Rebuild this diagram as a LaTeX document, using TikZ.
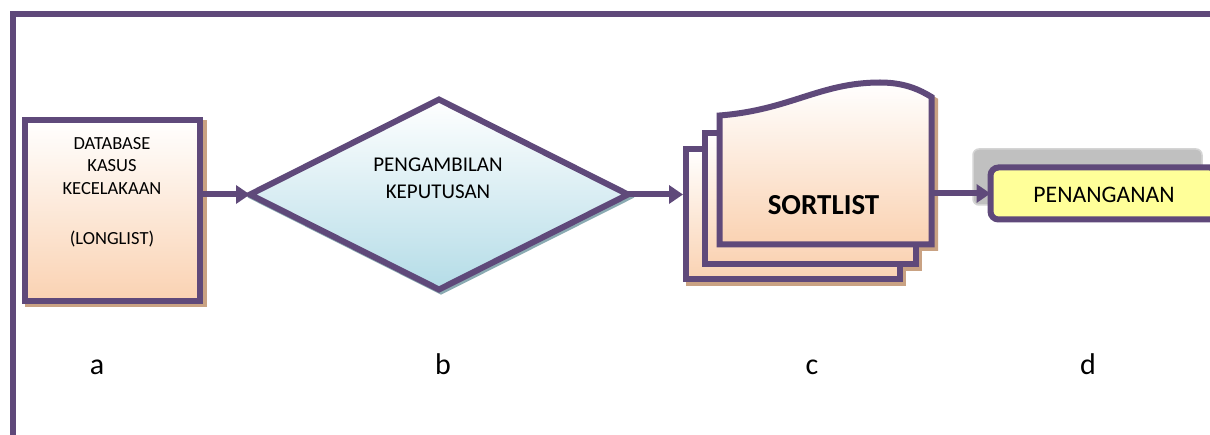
\documentclass[tikz,border=0pt]{standalone}
\usepackage{fontspec}
\setmainfont{Carlito}
\usetikzlibrary{arrows.meta,shapes.geometric}
\definecolor{pur}{HTML}{5F497A}
\definecolor{peach}{HTML}{FAD2B2}
\definecolor{lblue}{HTML}{B4DCE7}
\definecolor{tanshadow}{HTML}{C9A283}
\definecolor{tealshadow}{HTML}{8AAAB2}
\definecolor{yel}{HTML}{FFFF99}
\definecolor{grayfill}{HTML}{C0C0C0}
\definecolor{graybd}{HTML}{D4D4D4}
\pgfdeclarelayer{bg}
\pgfdeclarelayer{paper}
\pgfsetlayers{paper,bg,main}
\tikzset{
  pline/.style={draw=pur, line width=6pt},
  arr/.style={draw=pur, line width=6pt, -{Triangle[length=14pt,width=18pt]}},
  boxa/.style={pline, rectangle, outer sep=0pt, inner sep=0pt,
    minimum width=175.5pt, minimum height=181pt, top color=white, bottom color=peach},
  dia/.style={pline, diamond, outer sep=0pt, inner sep=0pt,
    minimum width=378pt, minimum height=190pt, top color=white, bottom color=lblue},
  ghost/.style={rectangle, outer sep=0pt, inner sep=0pt},
  boxd/.style={pline, rectangle, rounded corners=8pt, fill=yel, outer sep=0pt, inner sep=0pt,
    minimum width=227pt, minimum height=52pt},
  page/.style={pline, top color=white, bottom color=peach},
  lbl/.style={anchor=base, font=\fontsize{30}{36}\selectfont},
}
\begin{document}
\begin{tikzpicture}[x=1pt,y=-1pt]
\useasboundingbox (0,0) rectangle (1210,435);
\begin{pgfonlayer}{paper}
  \fill[white] (0,0) rectangle (1210,435);
\end{pgfonlayer}

% frame
\draw[pur, line width=6pt] (12.5,440) -- (12.5,14) -- (1215,14);

% a
\node[boxa] (a) at (112.25,210.5) {};
\node[align=center, font=\fontsize{18.5}{22.5}\selectfont] (atext) at (112,192)
  {DATABASE\\KASUS\\KECELAKAAN\\[27.5pt](LONGLIST)};

% b
\node[dia] (b) at (439,194.5) {};
\node[align=center, font=\fontsize{21}{26.7}\selectfont] (btext) at (438,178.5)
  {PENGAMBILAN\\KEPUTUSAN};

% c : multi-document
\begin{pgfonlayer}{bg}
  \begin{scope}[shift={(3.5,3.5)}]
    \filldraw[tanshadow, line width=6pt] (685.5,149.5) rectangle (899.5,279.5);
    \filldraw[tanshadow, line width=6pt] (704.5,133.5) rectangle (915.5,264.5);
    \filldraw[tanshadow, line width=6pt] (719.5,115.5) .. controls (790,110) and (820,82.5) .. (880,82.5)
      .. controls (905,82.5) and (920,90) .. (931.5,97) -- (931.5,244.5) -- (719.5,244.5) -- cycle;
  \end{scope}
\end{pgfonlayer}
\draw[page] (685.5,149.5) rectangle (899.5,279.5);
\draw[page] (704.5,133.5) rectangle (915.5,264.5);
\draw[page] (719.5,115.5) .. controls (790,110) and (820,82.5) .. (880,82.5)
  .. controls (905,82.5) and (920,90) .. (931.5,97) -- (931.5,244.5) -- (719.5,244.5) -- cycle;
\node[ghost, minimum width=251pt, minimum height=100pt] (c) at (808.5,194.5) {};
\node[font=\bfseries\fontsize{29}{35}\selectfont] (ctext) at (823.5,205) {SORTLIST};

% d
\node[boxd] (d) at (1104,193.5) {};
\node[font=\fontsize{23.7}{28}\selectfont] (dtext) at (1104,194.5) {PENANGANAN};

\begin{pgfonlayer}{bg}
  % shadows of a and b
  \filldraw[tanshadow, line width=6pt] ([shift={(3.5,3.5)}]a.north west) rectangle ([shift={(3.5,3.5)}]a.south east);
  \filldraw[tealshadow, line width=4pt] ([shift={(2,3)}]b.west) -- ([shift={(2,3)}]b.north)
    -- ([shift={(2,3)}]b.east) -- ([shift={(2,3)}]b.south) -- cycle;
  % grey panel behind d
  \draw[draw=graybd, fill=grayfill, line width=1.5pt, rounded corners=6pt] (973,149) rectangle (1202,205);
\end{pgfonlayer}

% connectors
\draw[arr] (a.east |- b.west) -- (b.west);
\draw[arr] (b.east) -- (c.west);
\draw[arr] (c.east |- d.west) -- (d.west);

% letters
\node[lbl] (la) at (97,375) {a};
\node[lbl] (lb) at (443,375) {b};
\node[lbl] (lc) at (812,375) {c};
\node[lbl] (ld) at (1088,375) {d};
\end{tikzpicture}
\end{document}
